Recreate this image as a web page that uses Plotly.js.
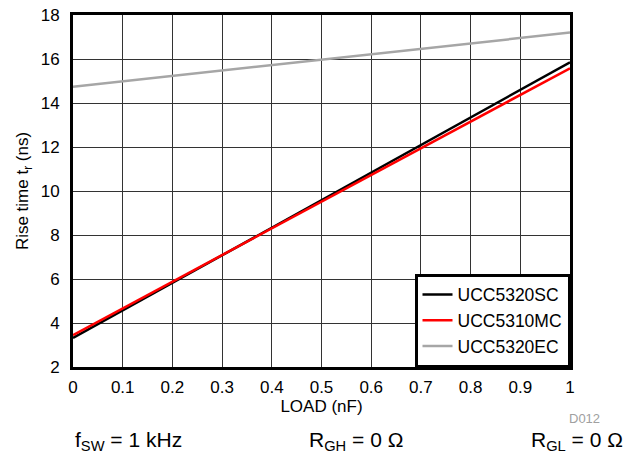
<!DOCTYPE html>
<html><head><meta charset="utf-8">
<script src="https://cdn.plot.ly/plotly-3.0.1.min.js"></script>
<style>html,body{margin:0;padding:0;background:#fff;}</style>
</head><body><div id="chart" style="width:637px;height:454px;"></div>
<script>
const loadNF = [0, 0.5, 1];
const ucc5320sc = [3.32, 9.58, 15.85];
const ucc5310mc = [3.45, 9.52, 15.58];
const ucc5320ec = [14.74, 15.97, 17.2];
const seriesNames = ['UCC5320SC', 'UCC5310MC', 'UCC5320EC'];
const seriesColors = ['#000000', '#ff0000', '#a6a6a6'];
const xTicks = [0, 0.1, 0.2, 0.3, 0.4, 0.5, 0.6, 0.7, 0.8, 0.9, 1];
const yTicks = [2, 4, 6, 8, 10, 12, 14, 16, 18];

const fontFam = 'Liberation Sans, Arial, sans-serif';
const data = [ucc5320sc, ucc5310mc, ucc5320ec].map((ys, i) => ({
  x: loadNF, y: ys, type: 'scatter', mode: 'lines', name: seriesNames[i],
  line: {color: seriesColors[i], width: 2.5}
}));

const layout = {
  width: 637, height: 454,
  margin: {l: 73, r: 67, t: 15, b: 87},
  paper_bgcolor: '#fff', plot_bgcolor: '#fff',
  font: {family: fontFam, size: 17, color: '#000'},
  showlegend: true,
  legend: {x: 1, y: 0, xanchor: 'right', yanchor: 'bottom', bgcolor: '#fff',
    bordercolor: '#000', borderwidth: 2.5, font: {size: 17.5, family: fontFam},
    tracegroupgap: 0, itemwidth: 30},
  xaxis: {range: [0, 1], tickvals: xTicks, ticktext: xTicks.map(String),
    showgrid: true, gridcolor: '#333', gridwidth: 1, zeroline: false,
    showline: true, linecolor: '#000', linewidth: 3, mirror: true, ticks: '',
    ticklabelstandoff: 3,
    title: {text: 'LOAD (nF)', font: {size: 17}, standoff: 3},
    tickfont: {size: 17}},
  yaxis: {range: [2, 18], tickvals: yTicks, ticktext: yTicks.map(String),
    showgrid: true, gridcolor: '#333', gridwidth: 1, zeroline: false,
    showline: true, linecolor: '#000', linewidth: 3, mirror: true, ticks: '',
    ticklabelstandoff: 7,
    title: {text: 'Rise time t<sub>r</sub> (ns)', font: {size: 17}, standoff: 8},
    tickfont: {size: 17}},
  annotations: [
    {text: 'D012', xref: 'paper', yref: 'paper', x: 1.03, y: -0.145, xanchor: 'center', yanchor: 'middle',
     showarrow: false, font: {size: 13, color: '#a0a0a0'}},
    {text: 'f<sub>SW</sub> = 1 kHz', xref: 'paper', yref: 'paper', x: 0, y: -0.21, xanchor: 'left', yanchor: 'middle',
     showarrow: false, font: {size: 21}},
    {text: 'R<sub>GH</sub> = 0 Ω', xref: 'paper', yref: 'paper', x: 0.57, y: -0.21, xanchor: 'center', yanchor: 'middle',
     showarrow: false, font: {size: 21}},
    {text: 'R<sub>GL</sub> = 0 Ω', xref: 'paper', yref: 'paper', x: 1.11, y: -0.21, xanchor: 'right', yanchor: 'middle',
     showarrow: false, font: {size: 21}}
  ]
};
Plotly.newPlot('chart', data, layout, {displayModeBar: false, staticPlot: true});
</script></body></html>
